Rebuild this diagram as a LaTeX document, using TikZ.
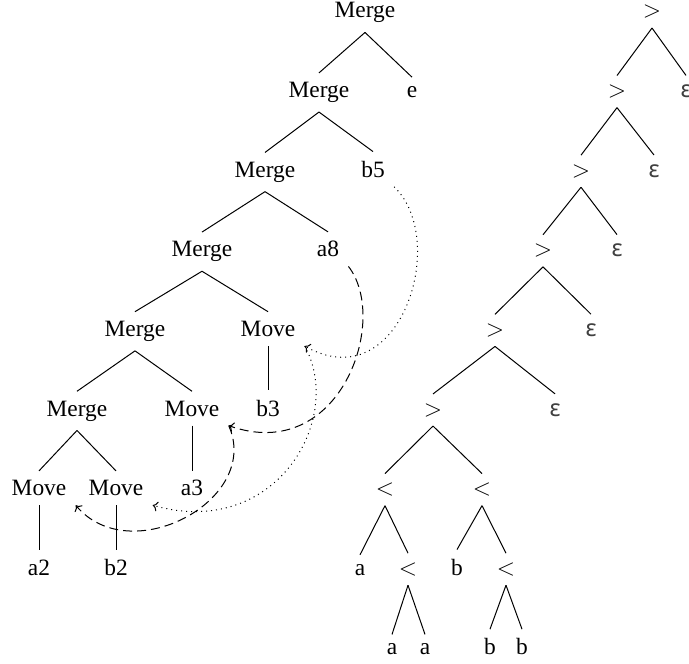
\documentclass[tikz,border=0pt]{standalone}
\usepackage{fontspec}
\setmainfont{Liberation Serif}
\newfontfamily\epsfont{Noto Sans}
\usetikzlibrary{arrows.meta}
\begin{document}
\begin{tikzpicture}[x=0.5pt,y=-0.5pt,
  every node/.style={inner sep=4.5pt, font=\fontsize{11.7}{14}\selectfont, anchor=base},
  eps/.style={font=\fontsize{11.7}{14}\selectfont\epsfont, text=black!75},
  treeedge/.style={line width=0.5pt},
  dasharc/.style={line width=0.5pt, dash pattern=on 4.5pt off 2.5pt, -{To[length=2.5pt,width=5pt]}},
  dotarc/.style={line width=0.5pt, dotted, -{To[length=2.5pt,width=5pt]}}
]
\useasboundingbox (0,0) rectangle (689,663);
% left tree
\node (m1) at (365,18) {Merge};
\node (m2) at (319,97.6) {Merge};
\node (e) at (412,97.6) {e};
\node (m3) at (265,177.2) {Merge};
\node (b5) at (373,177.2) {b5};
\node (m4) at (202,256.8) {Merge};
\node (a8) at (328,256.8) {a8};
\node (m5) at (135,336.4) {Merge};
\node (mv5) at (268,336.4) {Move};
\node (m6) at (77,416) {Merge};
\node (mv6) at (192,416) {Move};
\node (b3) at (268,416) {b3};
\node (mv7a) at (39,495.6) {Move};
\node (mv7b) at (116,495.6) {Move};
\node (a3) at (192,495.6) {a3};
\node (a2) at (39,575.2) {a2};
\node (b2) at (116,575.2) {b2};
\foreach \p/\c in {m1/m2,m1/e,m2/m3,m2/b5,m3/m4,m3/a8,m4/m5,m4/mv5,m5/m6,m5/mv6,mv5/b3,m6/mv7a,m6/mv7b,mv6/a3,mv7a/a2,mv7b/b2}
  \draw[treeedge] (\p.south) -- (\c.north);
% right tree
\node (g1) at (652,18) {$>$};
\node (g2) at (617,97.6) {$>$};
\node[eps] (ep2) at (686,97.6) {ε};
\node (g3) at (581,177.2) {$>$};
\node[eps] (ep3) at (654,177.2) {ε};
\node (g4) at (543,256.8) {$>$};
\node[eps] (ep4) at (617,256.8) {ε};
\node (g5) at (495,336.4) {$>$};
\node[eps] (ep5) at (591,336.4) {ε};
\node (g6) at (433,416) {$>$};
\node[eps] (ep6) at (555,416) {ε};
\node (l1) at (385,495.6) {$<$};
\node (l2) at (482,495.6) {$<$};
\node (ra) at (360,575.2) {a};
\node (l3) at (408,575.2) {$<$};
\node (rb) at (457,575.2) {b};
\node (l4) at (506,575.2) {$<$};
\node (ra1) at (392,654.8) {a};
\node (ra2) at (425,654.8) {a};
\node (rb1) at (490,654.8) {b};
\node (rb2) at (522,654.8) {b};
\foreach \p/\c in {g1/g2,g1/ep2,g2/g3,g2/ep3,g3/g4,g3/ep4,g4/g5,g4/ep5,g5/g6,g5/ep6,g6/l1,g6/l2,l1/ra,l1/l3,l2/rb,l2/l4,l3/ra1,l3/ra2,l4/rb1,l4/rb2}
  \draw[treeedge] (\p.south) -- (\c.north);
% movement arcs
\draw[dotarc] (b5.south east) .. controls (450,240) and (400,400) .. (mv5.south east);
\draw[dotarc] (mv5.south east) .. controls (345,420) and (275,540) .. (mv7b.south east);
\draw[dasharc] (a8.south east) .. controls (390,320) and (340,465) .. (mv6.south east);
\draw[dasharc] (mv6.south east) .. controls (262,500) and (130,570) .. (mv7a.south east);
\end{tikzpicture}
\end{document}
